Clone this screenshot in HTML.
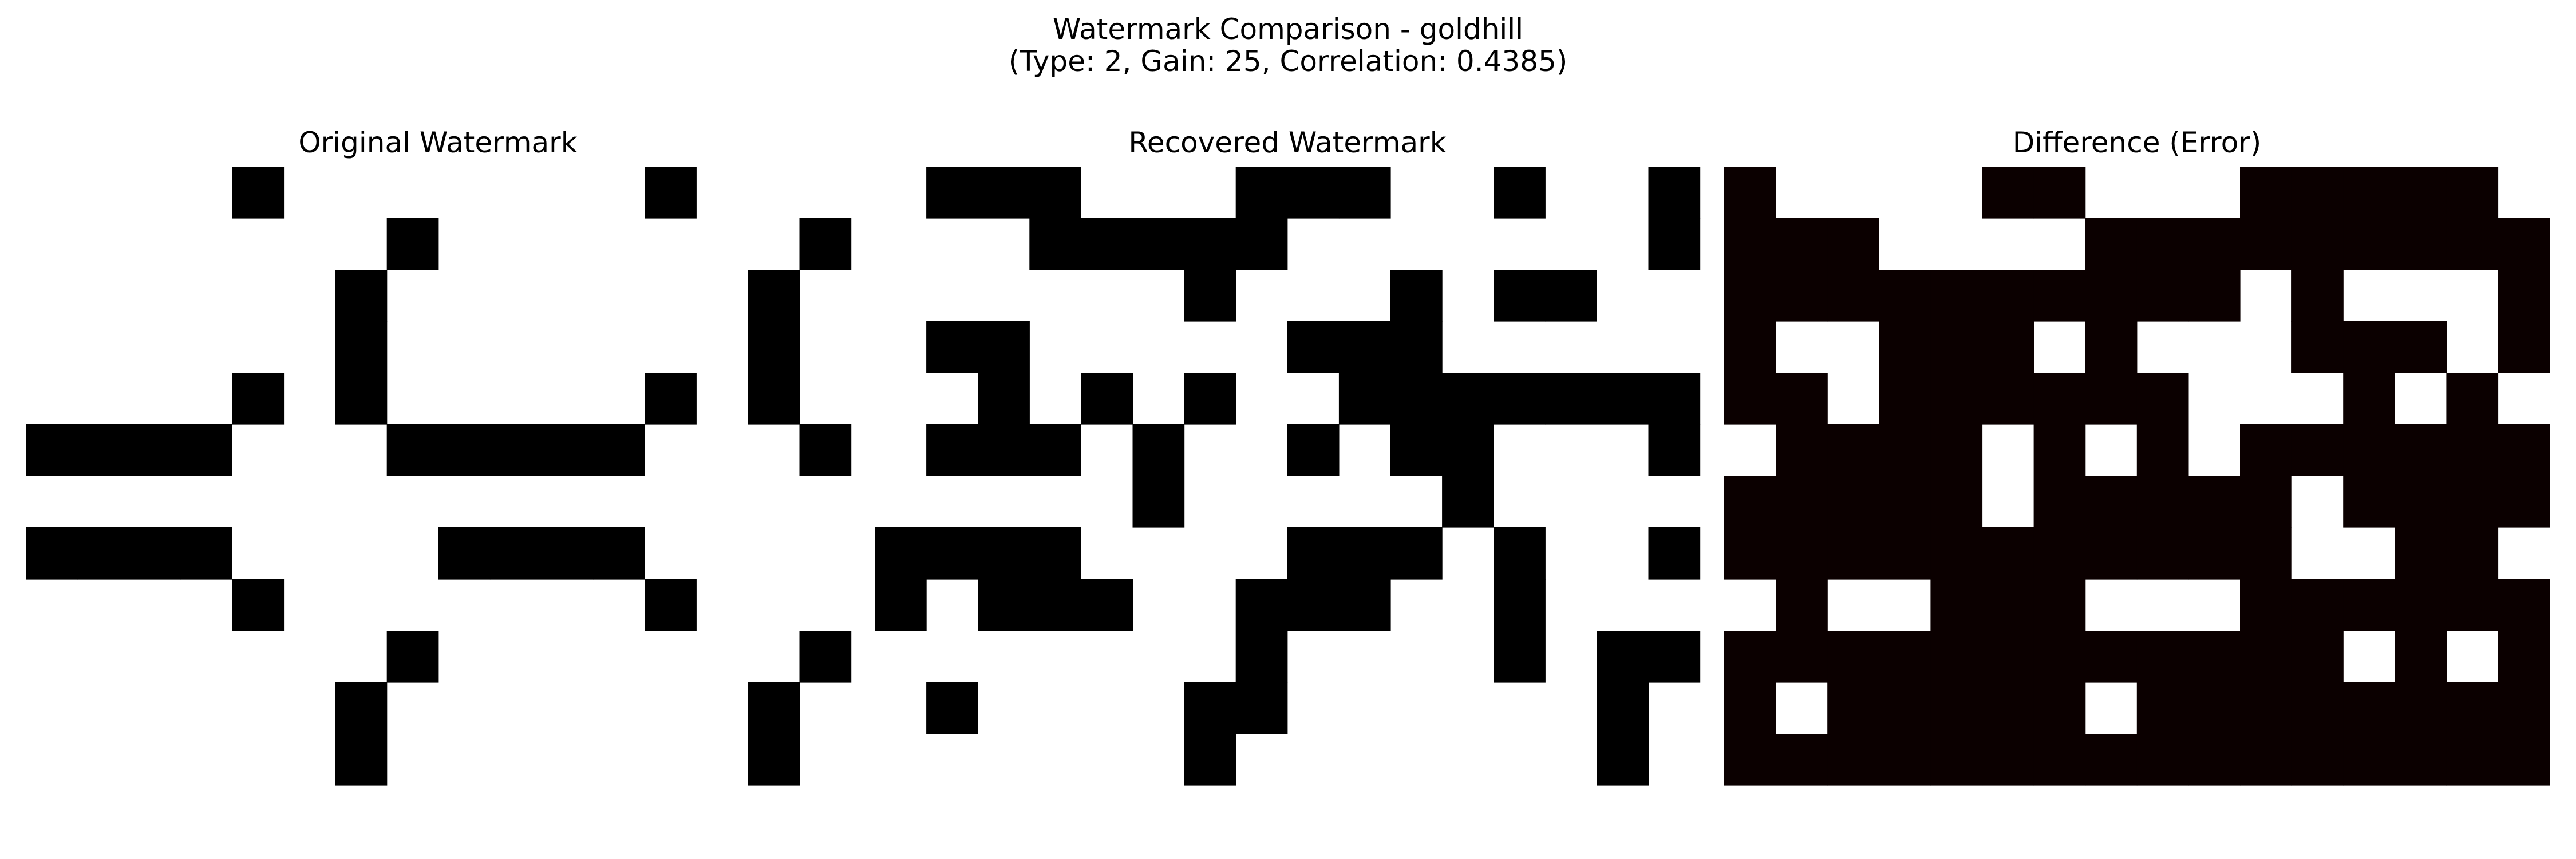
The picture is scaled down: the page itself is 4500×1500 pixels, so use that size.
<!DOCTYPE html>
<html><head><meta charset="utf-8"><style>
html,body{margin:0;padding:0;background:#fff;}
svg{display:block;font-family:"DejaVu Sans","Liberation Sans",sans-serif;}
</style></head><body>
<svg id="chart" width="4500" height="1500" viewBox="0 0 4500 1500" xmlns="http://www.w3.org/2000/svg">
<rect width="4500" height="1500" fill="#fff"/>
<text x="2250" y="68" text-anchor="middle" font-size="50">Watermark Comparison - goldhill</text>
<text x="2250" y="124" text-anchor="middle" font-size="50">(Type: 2, Gain: 25, Correlation: 0.4385)</text>
<text x="765" y="266" text-anchor="middle" font-size="50">Original Watermark</text>
<text x="2249" y="266" text-anchor="middle" font-size="50">Recovered Watermark</text>
<text x="3733" y="266" text-anchor="middle" font-size="50">Difference (Error)</text>
<g id="p0"></g>
<g id="p1"></g>
<g id="p2"></g>
</svg>
<script>
// black cells per row (column indices), 12 rows x 16 cols
const originalRows = [
 [4,12],[7,15],[6,14],[6,14],[4,6,12,14],[0,1,2,3,7,8,9,10,11,15],
 [],[0,1,2,3,8,9,10,11],[4,12],[7,15],[6,14],[6,14]
];
const recoveredRows = [
 [1,2,3,7,8,9,12,15],[3,4,5,6,7,15],[6,10,12,13],[1,2,8,9,10],
 [2,4,6,9,10,11,12,13,14,15],[1,2,3,5,8,10,11,15],[5,11],
 [0,1,2,3,8,9,10,12,15],[0,2,3,4,7,8,9,12],[7,12,14,15],[1,6,7,14],[6,14]
];
const nCols = 16, nRows = 12;
const panelX = [45, 1528, 3012];
const y0 = 291, cw = 90.1, ch = 90;
const NS = "http://www.w3.org/2000/svg";
function toGrid(rows){
  const g=[];
  for(let r=0;r<nRows;r++){const row=new Array(nCols).fill(0);(rows[r]||[]).forEach(c=>row[c]=1);g.push(row);}
  return g;
}
const gO = toGrid(originalRows), gR = toGrid(recoveredRows);
const xs = (p,c)=>panelX[p]+c*cw, ys = r=>y0+r*ch;
function cell(p,r,c,fill,name){
  const el=document.createElementNS(NS,'rect');
  el.setAttribute('x',xs(p,c).toFixed(2));el.setAttribute('y',ys(r).toFixed(2));
  el.setAttribute('width',(cw+0.6).toFixed(2));el.setAttribute('height',(ch+0.6).toFixed(2));
  el.setAttribute('fill',fill);
  
  
  document.getElementById('p'+p).appendChild(el);
}
for(let r=0;r<nRows;r++)for(let c=0;c<nCols;c++){
  if(gO[r][c]) cell(0,r,c,'#000','original-cell');
  if(gR[r][c]) cell(1,r,c,'#000','recovered-cell');
  if(gO[r][c]===gR[r][c]) cell(2,r,c,'#0b0000','difference-cell');
}
</script>
</body></html>
